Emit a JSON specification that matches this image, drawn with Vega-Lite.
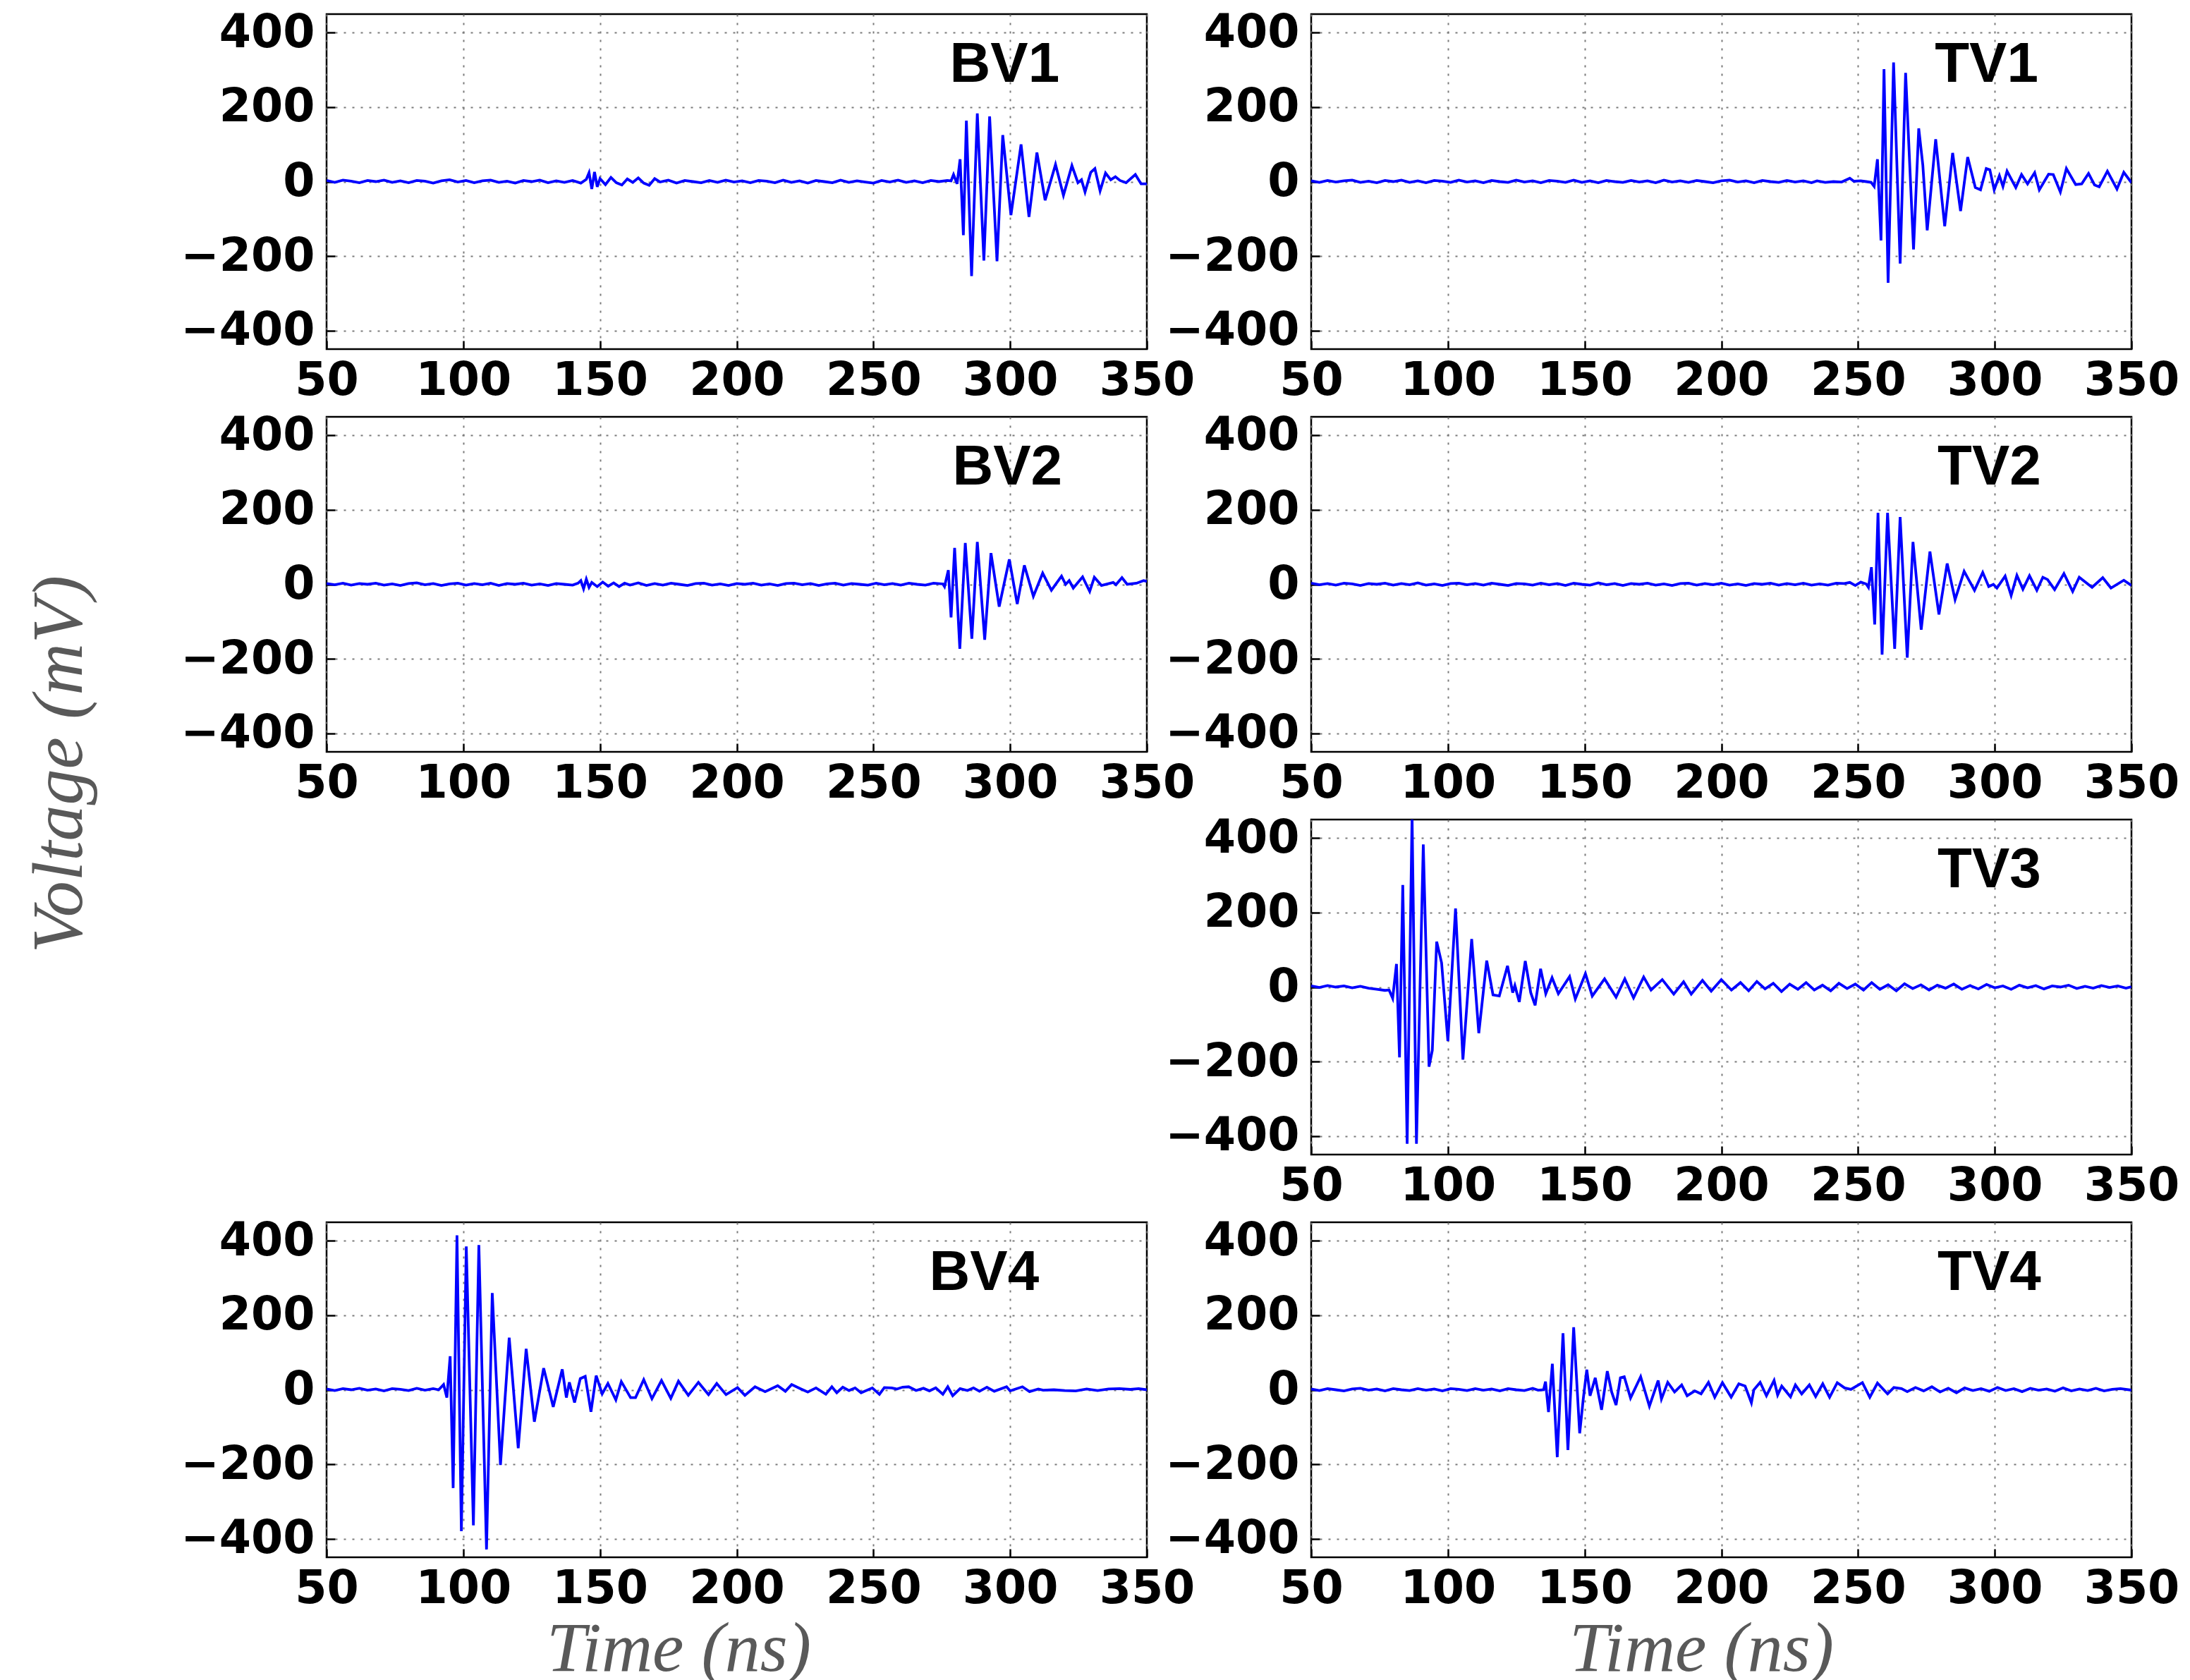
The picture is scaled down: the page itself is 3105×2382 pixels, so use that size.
{
"$schema": "https://vega.github.io/schema/vega-lite/v6.json",
"background": "white",
"padding": {"left": 31, "top": 13, "right": 5, "bottom": 5},
"datasets": {
"BV1": [{"t":50,"v":3},{"t":53,"v":-2},{"t":56,"v":4},{"t":59,"v":1},{"t":62,"v":-3},{"t":65,"v":3},{"t":68,"v":0},{"t":71,"v":4},{"t":74,"v":-2},{"t":77,"v":2},{"t":80,"v":-3},{"t":83,"v":3},{"t":86,"v":1},{"t":89,"v":-4},{"t":92,"v":2},{"t":95,"v":5},{"t":98,"v":-1},{"t":101,"v":3},{"t":104,"v":-3},{"t":107,"v":2},{"t":110,"v":4},{"t":113,"v":-2},{"t":116,"v":1},{"t":119,"v":-4},{"t":122,"v":3},{"t":125,"v":0},{"t":128,"v":4},{"t":131,"v":-3},{"t":134,"v":2},{"t":137,"v":-2},{"t":140,"v":3},{"t":143,"v":-4},{"t":145,"v":6},{"t":146,"v":24},{"t":147,"v":-20},{"t":148,"v":26},{"t":149,"v":-14},{"t":150,"v":8},{"t":152,"v":-8},{"t":154,"v":11},{"t":156,"v":-3},{"t":158,"v":-9},{"t":160,"v":7},{"t":162,"v":-2},{"t":164,"v":10},{"t":166,"v":-4},{"t":168,"v":-10},{"t":170,"v":8},{"t":172,"v":-1},{"t":175,"v":4},{"t":178,"v":-4},{"t":181,"v":3},{"t":184,"v":0},{"t":187,"v":-3},{"t":190,"v":3},{"t":193,"v":-2},{"t":196,"v":4},{"t":199,"v":-1},{"t":202,"v":2},{"t":205,"v":-3},{"t":208,"v":3},{"t":211,"v":1},{"t":214,"v":-3},{"t":217,"v":4},{"t":220,"v":-2},{"t":223,"v":2},{"t":226,"v":-4},{"t":229,"v":3},{"t":232,"v":0},{"t":235,"v":-3},{"t":238,"v":4},{"t":241,"v":-2},{"t":244,"v":2},{"t":247,"v":-1},{"t":250,"v":-4},{"t":253,"v":3},{"t":256,"v":-1},{"t":259,"v":4},{"t":262,"v":-2},{"t":265,"v":2},{"t":268,"v":-3},{"t":271,"v":3},{"t":274,"v":0},{"t":277,"v":3},{"t":278.4,"v":2},{"t":279.3,"v":19},{"t":280.6,"v":-6},{"t":281.7,"v":60},{"t":282.9,"v":-144},{"t":284.0,"v":164},{"t":285.9,"v":-254},{"t":288.0,"v":183},{"t":290.4,"v":-212},{"t":292.5,"v":175},{"t":295.2,"v":-214},{"t":297.3,"v":125},{"t":300.3,"v":-90},{"t":304.0,"v":100},{"t":306.9,"v":-95},{"t":309.8,"v":78},{"t":312.8,"v":-50},{"t":316.6,"v":46},{"t":319.5,"v":-37},{"t":322.6,"v":43},{"t":324.8,"v":-3},{"t":326.1,"v":5},{"t":327.4,"v":-28},{"t":329.5,"v":25},{"t":331.0,"v":35},{"t":332.9,"v":-25},{"t":334.9,"v":23},{"t":336.8,"v":5},{"t":338.5,"v":13},{"t":340.2,"v":3},{"t":342.4,"v":-3},{"t":345.8,"v":19},{"t":347.9,"v":-6},{"t":350,"v":-6}],
"TV1": [{"t":50,"v":2},{"t":53,"v":-2},{"t":56,"v":3},{"t":59,"v":-1},{"t":62,"v":2},{"t":65,"v":4},{"t":68,"v":-2},{"t":71,"v":1},{"t":74,"v":-3},{"t":77,"v":3},{"t":80,"v":0},{"t":83,"v":4},{"t":86,"v":-2},{"t":89,"v":2},{"t":92,"v":-3},{"t":95,"v":3},{"t":98,"v":1},{"t":101,"v":-2},{"t":104,"v":4},{"t":107,"v":-1},{"t":110,"v":2},{"t":113,"v":-3},{"t":116,"v":3},{"t":119,"v":0},{"t":122,"v":-2},{"t":125,"v":4},{"t":128,"v":-1},{"t":131,"v":2},{"t":134,"v":-3},{"t":137,"v":3},{"t":140,"v":1},{"t":143,"v":-2},{"t":146,"v":4},{"t":149,"v":-2},{"t":152,"v":2},{"t":155,"v":-3},{"t":158,"v":3},{"t":161,"v":0},{"t":164,"v":-2},{"t":167,"v":3},{"t":170,"v":-1},{"t":173,"v":2},{"t":176,"v":-3},{"t":179,"v":4},{"t":182,"v":-1},{"t":185,"v":2},{"t":188,"v":-2},{"t":191,"v":3},{"t":194,"v":0},{"t":197,"v":-3},{"t":200,"v":2},{"t":203,"v":4},{"t":206,"v":-1},{"t":209,"v":2},{"t":212,"v":-3},{"t":215,"v":3},{"t":218,"v":0},{"t":221,"v":-2},{"t":224,"v":3},{"t":227,"v":-1},{"t":230,"v":2},{"t":233,"v":-3},{"t":235,"v":2},{"t":238,"v":-2},{"t":241,"v":0},{"t":244,"v":-1},{"t":247,"v":9},{"t":248.5,"v":1},{"t":251,"v":2},{"t":253,"v":0},{"t":254.8,"v":-2},{"t":255.9,"v":-13},{"t":257.1,"v":60},{"t":258.4,"v":-158},{"t":259.5,"v":302},{"t":261.0,"v":-272},{"t":263.0,"v":320},{"t":265.4,"v":-220},{"t":267.4,"v":292},{"t":270.3,"v":-182},{"t":272.2,"v":143},{"t":273.7,"v":44},{"t":275.3,"v":-131},{"t":278.4,"v":114},{"t":281.7,"v":-120},{"t":284.6,"v":77},{"t":287.5,"v":-79},{"t":290.1,"v":66},{"t":292.9,"v":-16},{"t":294.8,"v":-22},{"t":296.9,"v":35},{"t":298.2,"v":32},{"t":299.8,"v":-22},{"t":301.7,"v":16},{"t":303.0,"v":-13},{"t":304.5,"v":28},{"t":307.7,"v":-16},{"t":309.8,"v":19},{"t":312.0,"v":-6},{"t":314.6,"v":24},{"t":316.3,"v":-22},{"t":319.7,"v":20},{"t":321.4,"v":19},{"t":324.0,"v":-28},{"t":326.2,"v":35},{"t":329.6,"v":-8},{"t":331.8,"v":-6},{"t":334.3,"v":22},{"t":336.5,"v":-9},{"t":338.2,"v":-14},{"t":341.2,"v":28},{"t":344.7,"v":-20},{"t":347.2,"v":25},{"t":350,"v":-3}],
"BV2": [{"t":50,"v":2},{"t":53,"v":-1},{"t":56,"v":3},{"t":59,"v":-2},{"t":62,"v":2},{"t":65,"v":0},{"t":68,"v":3},{"t":71,"v":-2},{"t":74,"v":1},{"t":77,"v":-3},{"t":80,"v":2},{"t":83,"v":4},{"t":86,"v":-1},{"t":89,"v":2},{"t":92,"v":-3},{"t":95,"v":1},{"t":98,"v":3},{"t":101,"v":-2},{"t":104,"v":2},{"t":107,"v":-1},{"t":110,"v":3},{"t":113,"v":-3},{"t":116,"v":2},{"t":119,"v":0},{"t":122,"v":3},{"t":125,"v":-2},{"t":128,"v":1},{"t":131,"v":-3},{"t":134,"v":2},{"t":137,"v":0},{"t":140,"v":-2},{"t":142,"v":3},{"t":143,"v":10},{"t":144,"v":-12},{"t":145,"v":14},{"t":146,"v":-8},{"t":147,"v":5},{"t":149,"v":-6},{"t":151,"v":6},{"t":153,"v":-5},{"t":155,"v":4},{"t":157,"v":-6},{"t":159,"v":3},{"t":161,"v":-2},{"t":164,"v":4},{"t":167,"v":-3},{"t":170,"v":2},{"t":173,"v":-2},{"t":176,"v":3},{"t":179,"v":0},{"t":182,"v":-3},{"t":185,"v":2},{"t":188,"v":3},{"t":191,"v":-2},{"t":194,"v":1},{"t":197,"v":-3},{"t":200,"v":2},{"t":203,"v":0},{"t":206,"v":3},{"t":209,"v":-2},{"t":212,"v":1},{"t":215,"v":-3},{"t":218,"v":2},{"t":221,"v":3},{"t":224,"v":-1},{"t":227,"v":2},{"t":230,"v":-3},{"t":233,"v":1},{"t":236,"v":3},{"t":239,"v":-2},{"t":242,"v":2},{"t":245,"v":0},{"t":248,"v":-2},{"t":251,"v":3},{"t":254,"v":-1},{"t":257,"v":2},{"t":260,"v":-2},{"t":263,"v":3},{"t":266,"v":0},{"t":269,"v":-2},{"t":272,"v":3},{"t":275.4,"v":1},{"t":276.0,"v":-6},{"t":277.4,"v":38},{"t":278.4,"v":-89},{"t":279.7,"v":98},{"t":281.6,"v":-173},{"t":283.6,"v":111},{"t":286.0,"v":-146},{"t":288.0,"v":114},{"t":290.7,"v":-149},{"t":293.0,"v":84},{"t":296.0,"v":-60},{"t":299.7,"v":67},{"t":302.6,"v":-53},{"t":305.2,"v":51},{"t":308.5,"v":-32},{"t":311.9,"v":30},{"t":315.1,"v":-16},{"t":318.8,"v":22},{"t":320.3,"v":0},{"t":321.6,"v":10},{"t":323.1,"v":-10},{"t":326.5,"v":20},{"t":329.1,"v":-19},{"t":330.8,"v":19},{"t":333.4,"v":-3},{"t":337.7,"v":5},{"t":338.7,"v":-1},{"t":340.9,"v":18},{"t":342.8,"v":0},{"t":346.2,"v":3},{"t":348.8,"v":10},{"t":350,"v":8}],
"TV2": [{"t":50,"v":3},{"t":53,"v":-1},{"t":56,"v":2},{"t":59,"v":-2},{"t":62,"v":3},{"t":65,"v":1},{"t":68,"v":-3},{"t":71,"v":2},{"t":74,"v":0},{"t":77,"v":3},{"t":80,"v":-2},{"t":83,"v":2},{"t":86,"v":-1},{"t":89,"v":4},{"t":92,"v":-2},{"t":95,"v":1},{"t":98,"v":-3},{"t":101,"v":2},{"t":104,"v":3},{"t":107,"v":-1},{"t":110,"v":2},{"t":113,"v":-2},{"t":116,"v":3},{"t":119,"v":0},{"t":122,"v":-3},{"t":125,"v":2},{"t":128,"v":1},{"t":131,"v":-2},{"t":134,"v":3},{"t":137,"v":-1},{"t":140,"v":2},{"t":143,"v":-3},{"t":146,"v":3},{"t":149,"v":0},{"t":152,"v":-2},{"t":155,"v":4},{"t":158,"v":-1},{"t":161,"v":2},{"t":164,"v":-3},{"t":167,"v":2},{"t":170,"v":0},{"t":173,"v":3},{"t":176,"v":-2},{"t":179,"v":1},{"t":182,"v":-3},{"t":185,"v":2},{"t":188,"v":3},{"t":191,"v":-2},{"t":194,"v":2},{"t":197,"v":-1},{"t":200,"v":3},{"t":203,"v":-2},{"t":206,"v":1},{"t":209,"v":-3},{"t":212,"v":2},{"t":215,"v":0},{"t":218,"v":3},{"t":221,"v":-2},{"t":224,"v":2},{"t":227,"v":-1},{"t":230,"v":3},{"t":233,"v":-2},{"t":236,"v":1},{"t":239,"v":-2},{"t":242,"v":3},{"t":245,"v":2},{"t":247,"v":5},{"t":249,"v":-3},{"t":251,"v":6},{"t":253,"v":1},{"t":253.8,"v":-8},{"t":254.9,"v":46},{"t":256.1,"v":-108},{"t":257.3,"v":192},{"t":258.8,"v":-189},{"t":260.8,"v":192},{"t":263.4,"v":-173},{"t":265.4,"v":181},{"t":268.0,"v":-197},{"t":270.1,"v":114},{"t":273.1,"v":-122},{"t":276.3,"v":88},{"t":279.6,"v":-81},{"t":282.6,"v":56},{"t":285.5,"v":-41},{"t":288.8,"v":35},{"t":292.6,"v":-16},{"t":295.6,"v":32},{"t":297.8,"v":-6},{"t":299.5,"v":0},{"t":300.8,"v":-10},{"t":303.8,"v":22},{"t":306.0,"v":-30},{"t":308.1,"v":24},{"t":310.3,"v":-13},{"t":312.7,"v":23},{"t":315.4,"v":-16},{"t":317.6,"v":19},{"t":319.3,"v":13},{"t":321.9,"v":-14},{"t":325.3,"v":29},{"t":328.5,"v":-19},{"t":330.9,"v":19},{"t":335.6,"v":-8},{"t":339.5,"v":18},{"t":342.5,"v":-10},{"t":347.2,"v":11},{"t":350,"v":-3}],
"TV3": [{"t":50,"v":3},{"t":53,"v":-1},{"t":56,"v":4},{"t":59,"v":0},{"t":62,"v":3},{"t":65,"v":-2},{"t":68,"v":2},{"t":71,"v":-3},{"t":74,"v":-6},{"t":77,"v":-9},{"t":78.5,"v":-8},{"t":79.8,"v":-30},{"t":81.2,"v":62},{"t":82.3,"v":-189},{"t":83.5,"v":274},{"t":85.1,"v":-421},{"t":86.9,"v":460},{"t":88.5,"v":-421},{"t":91.0,"v":383},{"t":93.1,"v":-214},{"t":94.3,"v":-170},{"t":95.9,"v":122},{"t":97.7,"v":65},{"t":100.0,"v":-145},{"t":102.8,"v":211},{"t":105.5,"v":-195},{"t":108.7,"v":129},{"t":111.3,"v":-124},{"t":114.2,"v":71},{"t":116.5,"v":-21},{"t":118.8,"v":-24},{"t":121.8,"v":57},{"t":123.7,"v":-15},{"t":124.5,"v":4},{"t":126.1,"v":-40},{"t":128.3,"v":70},{"t":130.3,"v":-15},{"t":131.9,"v":-49},{"t":133.9,"v":49},{"t":135.8,"v":-18},{"t":138.1,"v":25},{"t":140.4,"v":-18},{"t":144.5,"v":28},{"t":146.6,"v":-32},{"t":150.3,"v":36},{"t":152.8,"v":-24},{"t":157.3,"v":22},{"t":161.5,"v":-27},{"t":164.7,"v":22},{"t":167.9,"v":-29},{"t":171.6,"v":27},{"t":174.3,"v":-8},{"t":178.4,"v":20},{"t":182.6,"v":-19},{"t":186.2,"v":14},{"t":189.0,"v":-19},{"t":193.1,"v":18},{"t":196.3,"v":-11},{"t":200.0,"v":20},{"t":203.7,"v":-8},{"t":207,"v":12},{"t":210,"v":-10},{"t":213,"v":15},{"t":216,"v":-5},{"t":219,"v":10},{"t":222,"v":-12},{"t":225,"v":8},{"t":228,"v":-6},{"t":231,"v":12},{"t":234,"v":-8},{"t":237,"v":5},{"t":240,"v":-10},{"t":243,"v":10},{"t":246,"v":-4},{"t":249,"v":8},{"t":252,"v":-8},{"t":255,"v":12},{"t":258,"v":-6},{"t":261,"v":6},{"t":264,"v":-10},{"t":267,"v":9},{"t":270,"v":-4},{"t":273,"v":6},{"t":276,"v":-8},{"t":279,"v":5},{"t":282,"v":-3},{"t":285,"v":8},{"t":288,"v":-6},{"t":291,"v":4},{"t":294,"v":-5},{"t":297,"v":7},{"t":300,"v":-2},{"t":303,"v":3},{"t":306,"v":-6},{"t":309,"v":5},{"t":312,"v":-2},{"t":315,"v":4},{"t":318,"v":-5},{"t":321,"v":3},{"t":324,"v":0},{"t":327,"v":5},{"t":330,"v":-4},{"t":333,"v":2},{"t":336,"v":-3},{"t":339,"v":4},{"t":342,"v":-1},{"t":345,"v":3},{"t":348,"v":-3},{"t":350,"v":1}],
"BV4": [{"t":50,"v":2},{"t":53,"v":-2},{"t":56,"v":3},{"t":59,"v":0},{"t":62,"v":4},{"t":65,"v":-1},{"t":68,"v":2},{"t":71,"v":-3},{"t":74,"v":3},{"t":77,"v":1},{"t":80,"v":-2},{"t":83,"v":4},{"t":86,"v":-1},{"t":89,"v":3},{"t":91,"v":0},{"t":92.8,"v":14},{"t":94.0,"v":-21},{"t":95.2,"v":90},{"t":96.3,"v":-264},{"t":97.7,"v":415},{"t":99.3,"v":-380},{"t":101.1,"v":385},{"t":103.7,"v":-364},{"t":105.7,"v":389},{"t":108.5,"v":-429},{"t":110.6,"v":260},{"t":113.6,"v":-202},{"t":116.8,"v":140},{"t":120.1,"v":-157},{"t":123.0,"v":110},{"t":126.0,"v":-86},{"t":129.4,"v":58},{"t":132.9,"v":-46},{"t":136.2,"v":55},{"t":137.7,"v":-21},{"t":138.8,"v":20},{"t":140.7,"v":-34},{"t":142.8,"v":30},{"t":144.6,"v":36},{"t":146.7,"v":-59},{"t":148.6,"v":38},{"t":150.8,"v":-11},{"t":152.9,"v":17},{"t":155.8,"v":-27},{"t":157.8,"v":22},{"t":161.2,"v":-21},{"t":163.0,"v":-21},{"t":166.0,"v":27},{"t":169.0,"v":-24},{"t":172.5,"v":25},{"t":175.9,"v":-23},{"t":178.7,"v":23},{"t":182.3,"v":-15},{"t":186.0,"v":20},{"t":189.7,"v":-13},{"t":192.7,"v":17},{"t":196.1,"v":-13},{"t":200.3,"v":6},{"t":203.0,"v":-15},{"t":206.7,"v":8},{"t":210.4,"v":-5},{"t":215.0,"v":11},{"t":217.8,"v":-4},{"t":220.1,"v":14},{"t":223.3,"v":3},{"t":226,"v":-6},{"t":229,"v":5},{"t":232.6,"v":-12},{"t":234.8,"v":8},{"t":236.6,"v":-8},{"t":238.8,"v":7},{"t":241.1,"v":-2},{"t":243.3,"v":5},{"t":245.5,"v":-8},{"t":249.6,"v":5},{"t":252.2,"v":-12},{"t":254.0,"v":6},{"t":256.7,"v":5},{"t":258.5,"v":2},{"t":260.7,"v":7},{"t":262.9,"v":8},{"t":265.6,"v":-2},{"t":268.3,"v":4},{"t":270.5,"v":-3},{"t":272.8,"v":5},{"t":275.4,"v":-12},{"t":277.2,"v":8},{"t":279.0,"v":-16},{"t":281.7,"v":3},{"t":284.4,"v":-2},{"t":286.6,"v":5},{"t":288.8,"v":-4},{"t":291.5,"v":7},{"t":294.2,"v":-4},{"t":298.7,"v":8},{"t":300.0,"v":-3},{"t":304.5,"v":8},{"t":307.1,"v":-5},{"t":310.3,"v":2},{"t":312.1,"v":-1},{"t":316,"v":0},{"t":320,"v":-2},{"t":324,"v":-3},{"t":328,"v":2},{"t":332,"v":-2},{"t":336,"v":2},{"t":340,"v":3},{"t":344,"v":1},{"t":347,"v":3},{"t":350,"v":0}],
"TV4": [{"t":50,"v":2},{"t":53,"v":-2},{"t":56,"v":3},{"t":59,"v":0},{"t":62,"v":-3},{"t":65,"v":2},{"t":68,"v":4},{"t":71,"v":-1},{"t":74,"v":2},{"t":77,"v":-3},{"t":80,"v":3},{"t":83,"v":0},{"t":86,"v":-2},{"t":89,"v":3},{"t":92,"v":-1},{"t":95,"v":2},{"t":98,"v":-3},{"t":101,"v":3},{"t":104,"v":1},{"t":107,"v":-2},{"t":110,"v":3},{"t":113,"v":-1},{"t":116,"v":2},{"t":119,"v":-3},{"t":122,"v":3},{"t":125,"v":0},{"t":128,"v":-2},{"t":131,"v":4},{"t":133,"v":-1},{"t":135.0,"v":0},{"t":135.7,"v":22},{"t":136.8,"v":-60},{"t":138.2,"v":70},{"t":140.0,"v":-181},{"t":142.1,"v":152},{"t":143.9,"v":-162},{"t":146.0,"v":168},{"t":148.2,"v":-117},{"t":149.5,"v":-25},{"t":150.8,"v":54},{"t":152.0,"v":-16},{"t":153.9,"v":32},{"t":156.2,"v":-54},{"t":158.3,"v":50},{"t":159.9,"v":-6},{"t":161.5,"v":-41},{"t":163.1,"v":32},{"t":164.5,"v":35},{"t":166.8,"v":-22},{"t":170.5,"v":35},{"t":173.7,"v":-44},{"t":176.9,"v":25},{"t":178.1,"v":-25},{"t":180.4,"v":20},{"t":182.9,"v":-6},{"t":185.5,"v":13},{"t":187.5,"v":-16},{"t":190.3,"v":-3},{"t":192.6,"v":-11},{"t":195.3,"v":20},{"t":197.6,"v":-20},{"t":200.4,"v":19},{"t":203.6,"v":-20},{"t":206.4,"v":16},{"t":208.7,"v":10},{"t":211.0,"v":-35},{"t":211.9,"v":0},{"t":214.2,"v":20},{"t":216.5,"v":-16},{"t":219.3,"v":25},{"t":220.6,"v":-14},{"t":222.1,"v":10},{"t":225.3,"v":-19},{"t":227.1,"v":13},{"t":229.4,"v":-11},{"t":232.2,"v":13},{"t":234.5,"v":-18},{"t":237.1,"v":16},{"t":239.6,"v":-20},{"t":242.4,"v":19},{"t":245.1,"v":5},{"t":247.4,"v":1},{"t":251.6,"v":19},{"t":254.3,"v":-20},{"t":257.1,"v":18},{"t":260.8,"v":-11},{"t":263.1,"v":6},{"t":265.9,"v":3},{"t":268,"v":-5},{"t":271,"v":6},{"t":274,"v":-3},{"t":277,"v":8},{"t":280,"v":-6},{"t":283,"v":4},{"t":286,"v":-8},{"t":289,"v":5},{"t":292,"v":-2},{"t":295,"v":3},{"t":298,"v":-4},{"t":301,"v":6},{"t":304,"v":-2},{"t":307,"v":3},{"t":310,"v":-5},{"t":313,"v":4},{"t":316,"v":-1},{"t":319,"v":2},{"t":322,"v":-4},{"t":325,"v":5},{"t":328,"v":-3},{"t":331,"v":2},{"t":334,"v":-2},{"t":337,"v":4},{"t":340,"v":-3},{"t":343,"v":1},{"t":346,"v":3},{"t":350,"v":-1}]
},
"columns": 2,
"spacing": {"row": 96, "column": 233},
"bounds": "flush",
"concat": [
{"width":1163,"height":475,"layer":[
 {"data":{"name":"BV1"},"mark":{"type":"line","color":"#0000ff","strokeWidth":3.8,"clip":true},
  "encoding":{"x":{"field":"t","type":"quantitative","scale":{"domain":[50,350],"nice":false,"zero":false},"axis":{"values":[50,100,150,200,250,300,350],"title":null}},
   "y":{"field":"v","type":"quantitative","scale":{"domain":[-450,450],"nice":false},"axis":{"values":[-400,-200,0,200,400],"title":null}}}},
 {"data":{"values":[{"t":298,"v":268,"s":"BV1"}]},"mark":{"type":"text","font":"Liberation Sans","fontWeight":"bold","fontSize":80,"align":"center","baseline":"alphabetic","color":"#000000"},
  "encoding":{"x":{"field":"t","type":"quantitative"},"y":{"field":"v","type":"quantitative"},"text":{"field":"s","type":"nominal"}}}]},
{"width":1163,"height":475,"layer":[
 {"data":{"name":"TV1"},"mark":{"type":"line","color":"#0000ff","strokeWidth":3.8,"clip":true},
  "encoding":{"x":{"field":"t","type":"quantitative","scale":{"domain":[50,350],"nice":false,"zero":false},"axis":{"values":[50,100,150,200,250,300,350],"title":null}},
   "y":{"field":"v","type":"quantitative","scale":{"domain":[-450,450],"nice":false},"axis":{"values":[-400,-200,0,200,400],"title":null}}}},
 {"data":{"values":[{"t":297,"v":268,"s":"TV1"}]},"mark":{"type":"text","font":"Liberation Sans","fontWeight":"bold","fontSize":80,"align":"center","baseline":"alphabetic","color":"#000000"},
  "encoding":{"x":{"field":"t","type":"quantitative"},"y":{"field":"v","type":"quantitative"},"text":{"field":"s","type":"nominal"}}}]},
{"width":1163,"height":475,"layer":[
 {"data":{"name":"BV2"},"mark":{"type":"line","color":"#0000ff","strokeWidth":3.8,"clip":true},
  "encoding":{"x":{"field":"t","type":"quantitative","scale":{"domain":[50,350],"nice":false,"zero":false},"axis":{"values":[50,100,150,200,250,300,350],"title":null}},
   "y":{"field":"v","type":"quantitative","scale":{"domain":[-450,450],"nice":false},"axis":{"values":[-400,-200,0,200,400],"title":"Voltage (mV)","titleAngle":270,"titleX":-348,"titleY":492,"titleAlign":"center","titleBaseline":"alphabetic","titleFontSize":102}}}},
 {"data":{"values":[{"t":299,"v":268,"s":"BV2"}]},"mark":{"type":"text","font":"Liberation Sans","fontWeight":"bold","fontSize":80,"align":"center","baseline":"alphabetic","color":"#000000"},
  "encoding":{"x":{"field":"t","type":"quantitative"},"y":{"field":"v","type":"quantitative"},"text":{"field":"s","type":"nominal"}}}]},
{"width":1163,"height":475,"layer":[
 {"data":{"name":"TV2"},"mark":{"type":"line","color":"#0000ff","strokeWidth":3.8,"clip":true},
  "encoding":{"x":{"field":"t","type":"quantitative","scale":{"domain":[50,350],"nice":false,"zero":false},"axis":{"values":[50,100,150,200,250,300,350],"title":null}},
   "y":{"field":"v","type":"quantitative","scale":{"domain":[-450,450],"nice":false},"axis":{"values":[-400,-200,0,200,400],"title":null}}}},
 {"data":{"values":[{"t":298,"v":268,"s":"TV2"}]},"mark":{"type":"text","font":"Liberation Sans","fontWeight":"bold","fontSize":80,"align":"center","baseline":"alphabetic","color":"#000000"},
  "encoding":{"x":{"field":"t","type":"quantitative"},"y":{"field":"v","type":"quantitative"},"text":{"field":"s","type":"nominal"}}}]},
{"width":1163,"height":475,"view":{"stroke":null},"data":{"values":[{"a":1}]},"mark":{"type":"point","opacity":0}},
{"width":1163,"height":475,"layer":[
 {"data":{"name":"TV3"},"mark":{"type":"line","color":"#0000ff","strokeWidth":3.8,"clip":true},
  "encoding":{"x":{"field":"t","type":"quantitative","scale":{"domain":[50,350],"nice":false,"zero":false},"axis":{"values":[50,100,150,200,250,300,350],"title":null}},
   "y":{"field":"v","type":"quantitative","scale":{"domain":[-450,450],"nice":false},"axis":{"values":[-400,-200,0,200,400],"title":null}}}},
 {"data":{"values":[{"t":298,"v":268,"s":"TV3"}]},"mark":{"type":"text","font":"Liberation Sans","fontWeight":"bold","fontSize":80,"align":"center","baseline":"alphabetic","color":"#000000"},
  "encoding":{"x":{"field":"t","type":"quantitative"},"y":{"field":"v","type":"quantitative"},"text":{"field":"s","type":"nominal"}}}]},
{"width":1163,"height":475,"layer":[
 {"data":{"name":"BV4"},"mark":{"type":"line","color":"#0000ff","strokeWidth":3.8,"clip":true},
  "encoding":{"x":{"field":"t","type":"quantitative","scale":{"domain":[50,350],"nice":false,"zero":false},"axis":{"values":[50,100,150,200,250,300,350],"title":"Time (ns)","titleX":499,"titleY":160,"titleBaseline":"alphabetic","titleAlign":"center"}},
   "y":{"field":"v","type":"quantitative","scale":{"domain":[-450,450],"nice":false},"axis":{"values":[-400,-200,0,200,400],"title":null}}}},
 {"data":{"values":[{"t":290.5,"v":268,"s":"BV4"}]},"mark":{"type":"text","font":"Liberation Sans","fontWeight":"bold","fontSize":80,"align":"center","baseline":"alphabetic","color":"#000000"},
  "encoding":{"x":{"field":"t","type":"quantitative"},"y":{"field":"v","type":"quantitative"},"text":{"field":"s","type":"nominal"}}}]},
{"width":1163,"height":475,"layer":[
 {"data":{"name":"TV4"},"mark":{"type":"line","color":"#0000ff","strokeWidth":3.8,"clip":true},
  "encoding":{"x":{"field":"t","type":"quantitative","scale":{"domain":[50,350],"nice":false,"zero":false},"axis":{"values":[50,100,150,200,250,300,350],"title":"Time (ns)","titleX":553,"titleY":160,"titleBaseline":"alphabetic","titleAlign":"center"}},
   "y":{"field":"v","type":"quantitative","scale":{"domain":[-450,450],"nice":false},"axis":{"values":[-400,-200,0,200,400],"title":null}}}},
 {"data":{"values":[{"t":298,"v":268,"s":"TV4"}]},"mark":{"type":"text","font":"Liberation Sans","fontWeight":"bold","fontSize":80,"align":"center","baseline":"alphabetic","color":"#000000"},
  "encoding":{"x":{"field":"t","type":"quantitative"},"y":{"field":"v","type":"quantitative"},"text":{"field":"s","type":"nominal"}}}]}
],
"config": {
 "view": {"stroke": "#000000", "strokeWidth": 2.5},
 "axis": {"labelFont": "DejaVu Sans", "labelFontWeight": "bold", "labelFontSize": 65, "labelColor": "#000000", "labelLimit": 500, "labelFlush": false, "labelOverlap": false,
  "grid": true, "gridColor": "#7a7a7a", "gridDash": [3, 9], "gridWidth": 2, "domain": false, "ticks": true, "tickSize": -12, "tickWidth": 2.5, "tickColor": "#000000",
  "titleFont": "Liberation Serif", "titleFontStyle": "italic", "titleFontWeight": "normal", "titleFontSize": 100, "titleColor": "#595959"},
 "axisX": {"labelPadding": 25},
 "axisY": {"labelPadding": 29}
}
}
